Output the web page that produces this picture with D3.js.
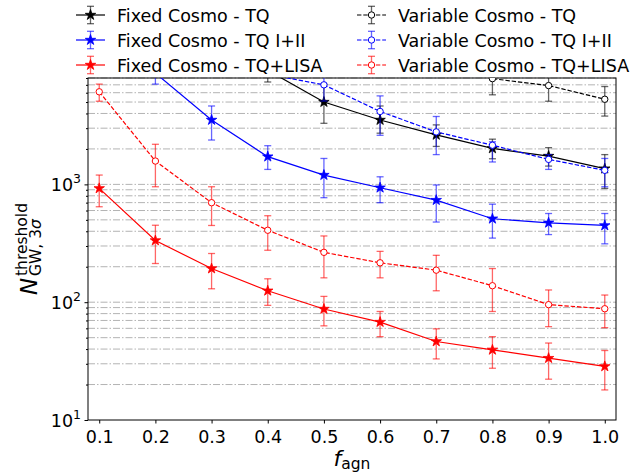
<!DOCTYPE html>
<html>
<head>
<meta charset="utf-8">
<script src="https://cdn.jsdelivr.net/npm/d3@7"></script>
<style>
  body { margin: 0; background: #fff; }
  svg { font-family: "DejaVu Sans", sans-serif; }
</style>
</head>
<body>
<svg id="chart" width="642" height="474"></svg>
<script>
const width = 642;
const height = 474;
const margin = { top: 78, right: 26, bottom: 54, left: 88 };

// f_agn values on the x axis
const fagn = [0.1, 0.2, 0.3, 0.4, 0.5, 0.6, 0.7, 0.8, 0.9, 1.0];
const xTicks = [0.1, 0.2, 0.3, 0.4, 0.5, 0.6, 0.7, 0.8, 0.9, 1.0];
const yMajor = [10, 100, 1000];

// null = point off the top of the plot
const fixedTQ     = [null, null, null, 9300, 5000, 3520, 2630, 2020, 1740, 1360];
const fixedTQLo   = [null, null, null, 7400, 3300, 2720, 2100, 1650, 1430, 925];
const fixedTQHi   = [null, null, null, 11500, 7100, 4630, 3200, 2420, 2050, 1790];

const fixedTQ12   = [null, 8800, 3520, 1720, 1200, 937, 735, 511, 472, 448];
const fixedTQ12Lo = [null, 7100, 2380, 1340, 771, 699, 479, 350, 375, 313];
const fixedTQ12Hi = [null, 11000, 4630, 2130, 1660, 1160, 989, 679, 566, 566];

const fixedLISA   = [925, 334, 193, 125, 87.5, 67.8, 46.4, 39.4, 33.5, 28.5];
const fixedLISALo = [646, 213, 130, 94, 63, 51, 33, 27.5, 22.2, 18];
const fixedLISAHi = [1200, 450, 259, 158, 112, 83.4, 59.4, 51, 45, 38.9];

const varTQ       = [null, null, null, null, null, null, 25000, 7900, 6900, 5280];
const varTQLo     = [null, null, null, null, null, null, 18000, 5760, 5080, 3800];
const varTQHi     = [null, null, null, null, null, null, 32000, 10500, 8100, 6770];

const varTQ12     = [null, null, null, 8600, 7000, 4160, 2790, 2150, 1630, 1316];
const varTQ12Lo   = [null, null, null, 8100, 5100, 2610, 1790, 1550, 1340, 955];
const varTQ12Hi   = [null, null, null, 11000, 9500, 5640, 3770, 2300, 1790, 1660];

const varLISA     = [6110, 1578, 699, 408, 265, 216, 187, 138, 95.3, 88];
const varLISALo   = [5080, 955, 448, 276, 161, 161, 125, 83.4, 62, 60.8];
const varLISAHi   = [7100, 2190, 955, 542, 365, 270, 250, 193, 127, 115];

const series = [
  { label: "Fixed Cosmo - TQ", color: "black", dashed: false, y: fixedTQ, lo: fixedTQLo, hi: fixedTQHi },
  { label: "Fixed Cosmo - TQ I+II", color: "blue", dashed: false, y: fixedTQ12, lo: fixedTQ12Lo, hi: fixedTQ12Hi },
  { label: "Fixed Cosmo - TQ+LISA", color: "red", dashed: false, y: fixedLISA, lo: fixedLISALo, hi: fixedLISAHi },
  { label: "Variable Cosmo - TQ", color: "black", dashed: true, y: varTQ, lo: varTQLo, hi: varTQHi },
  { label: "Variable Cosmo - TQ I+II", color: "blue", dashed: true, y: varTQ12, lo: varTQ12Lo, hi: varTQ12Hi },
  { label: "Variable Cosmo - TQ+LISA", color: "red", dashed: true, y: varLISA, lo: varLISALo, hi: varLISAHi }
];

const fontSize = 17.5;

const x = d3.scaleLinear().domain([0.08, 1.02]).range([margin.left, width - margin.right]);
const y = d3.scaleLog().domain([10, 8000]).range([height - margin.bottom, margin.top]);

const svg = d3.select('#chart');

svg.append('clipPath').attr('id', 'plot-clip')
  .append('rect')
    .attr('x', margin.left).attr('y', margin.top)
    .attr('width', width - margin.left - margin.right)
    .attr('height', height - margin.top - margin.bottom);

// horizontal dash-dot grid on every major and minor decade line
const gridVals = [];
for (let e = 1; e <= 3; e++) {
  for (let m = 1; m <= 9; m++) {
    const v = m * Math.pow(10, e);
    if (v <= 8000) gridVals.push(v);
  }
}
svg.append('g')
  .selectAll('line')
  .data(gridVals.filter(v => v > 10))
  .enter().append('line')
    .attr('x1', margin.left).attr('x2', width - margin.right)
    .attr('y1', d => y(d)).attr('y2', d => y(d))
    .attr('stroke', '#b3b3b3')
    .attr('stroke-width', 1)
    .attr('stroke-dasharray', '7,2,1.5,2');

// x axis
const xAxis = svg.append('g')
  .attr('transform', `translate(0,${height - margin.bottom})`)
  .call(d3.axisBottom(x).tickValues(xTicks).tickFormat(d3.format('.1f')).tickSize(3.5).tickSizeOuter(0));
xAxis.select('.domain').remove();
xAxis.selectAll('text')
  .attr('font-size', fontSize)
  .attr('font-family', '"DejaVu Sans", sans-serif')
  .attr('fill', 'black')
  .attr('dy', null)
  .attr('y', 23);

// y axis: major labels as 10^n, minor ticks too
const yAxis = svg.append('g')
  .attr('transform', `translate(${margin.left},0)`)
  .call(d3.axisLeft(y).tickValues(yMajor).tickFormat('').tickSize(3.5).tickSizeOuter(0));
yAxis.select('.domain').remove();
svg.append('g')
  .attr('transform', `translate(${margin.left},0)`)
  .call(d3.axisLeft(y).tickValues(gridVals.filter(v => !yMajor.includes(v))).tickFormat('').tickSize(2).tickSizeOuter(0))
  .select('.domain').remove();

const yLabels = svg.append('g')
  .selectAll('text')
  .data(yMajor)
  .enter().append('text')
    .attr('x', 81)
    .attr('y', d => y(d) + 6.5)
    .attr('text-anchor', 'end')
    .attr('font-size', fontSize)
    .attr('fill', 'black');
yLabels.append('tspan').text('10');
yLabels.append('tspan')
  .attr('font-size', 12.5)
  .attr('dy', -7.5)
  .text(d => Math.round(Math.log10(d)));

// frame
svg.append('rect')
  .attr('x', margin.left).attr('y', margin.top)
  .attr('width', width - margin.left - margin.right)
  .attr('height', height - margin.top - margin.bottom)
  .attr('fill', 'none')
  .attr('stroke', 'black')
  .attr('stroke-width', 1);

const star = d3.symbol().type(d3.symbolStar).size(34);

function drawMarker(g, s, cx, cy) {
  if (s.dashed) {
    g.append('circle')
      .attr('cx', cx).attr('cy', cy).attr('r', 3.2)
      .attr('fill', 'white')
      .attr('stroke', s.color)
      .attr('stroke-width', 1);
  } else {
    g.append('path')
      .attr('d', star)
      .attr('transform', `translate(${cx},${cy})`)
      .attr('fill', s.color)
      .attr('stroke', s.color)
      .attr('stroke-width', 0.8);
  }
}

function drawErrorBar(g, s, cx, yTop, yBot) {
  const bar = g.append('g')
    .attr('stroke', s.color)
    .attr('stroke-opacity', 0.6)
    .attr('stroke-width', 1.3);
  bar.append('line').attr('x1', cx).attr('x2', cx).attr('y1', yTop).attr('y2', yBot);
  bar.append('line').attr('x1', cx - 3.5).attr('x2', cx + 3.5).attr('y1', yTop).attr('y2', yTop);
  bar.append('line').attr('x1', cx - 3.5).attr('x2', cx + 3.5).attr('y1', yBot).attr('y2', yBot);
}

const plot = svg.append('g').attr('clip-path', 'url(#plot-clip)');

series.forEach(s => {
  const pts = fagn.map((f, i) => ({ f: f, v: s.y[i], lo: s.lo[i], hi: s.hi[i] }))
    .filter(p => p.v !== null);
  const g = plot.append('g');

  pts.forEach(p => drawErrorBar(g, s, x(p.f), y(p.hi), y(p.lo)));

  const line = d3.line().x(p => x(p.f)).y(p => y(p.v));
  g.append('path')
    .datum(pts)
    .attr('d', line)
    .attr('fill', 'none')
    .attr('stroke', s.color)
    .attr('stroke-width', 1.2)
    .attr('stroke-dasharray', s.dashed ? '4.4,1.9' : null);

  pts.forEach(p => drawMarker(g, s, x(p.f), y(p.v)));
});

// legend, two columns of three rows above the axes
const legend = svg.append('g');
series.forEach((s, i) => {
  const col = Math.floor(i / 3);
  const row = i % 3;
  const hx = col === 0 ? 76 : 357;
  const hy = 15 + row * 25;
  const g = legend.append('g');
  drawErrorBar(g, s, hx + 14.5, hy - 8.7, hy + 8.7);
  g.append('line')
    .attr('x1', hx).attr('x2', hx + 29)
    .attr('y1', hy).attr('y2', hy)
    .attr('stroke', s.color)
    .attr('stroke-width', 1.2)
    .attr('stroke-dasharray', s.dashed ? '4.4,1.9' : null);
  drawMarker(g, s, hx + 14.5, hy);
  g.append('text')
    .attr('x', hx + 41)
    .attr('y', hy + 6.5)
    .attr('font-size', fontSize)
    .attr('fill', 'black')
    .text(s.label);
});

// x label: f_agn
const xl = svg.append('text')
  .attr('x', 352)
  .attr('y', 466)
  .attr('text-anchor', 'middle')
  .attr('fill', 'black');
xl.append('tspan').attr('font-size', 22).attr('font-style', 'italic').text('f');
xl.append('tspan').attr('font-size', 15.5).attr('dy', 3).text('agn');

// y label: N^threshold_{GW,3σ}
const yl = svg.append('g')
  .attr('transform', `translate(37,${(margin.top + height - margin.bottom) / 2}) rotate(-90)`)
  .attr('fill', 'black');
yl.append('text').attr('x', -46).attr('y', 0)
  .attr('font-size', 23).attr('font-style', 'italic').text('N');
yl.append('text').attr('x', -27).attr('y', -10)
  .attr('font-size', 15.5).text('threshold');
const sub = yl.append('text').attr('x', -27).attr('y', 4)
  .attr('font-size', 15.5);
sub.append('tspan').text('GW, 3');
sub.append('tspan').attr('font-style', 'italic').text('σ');
</script>
</body>
</html>
